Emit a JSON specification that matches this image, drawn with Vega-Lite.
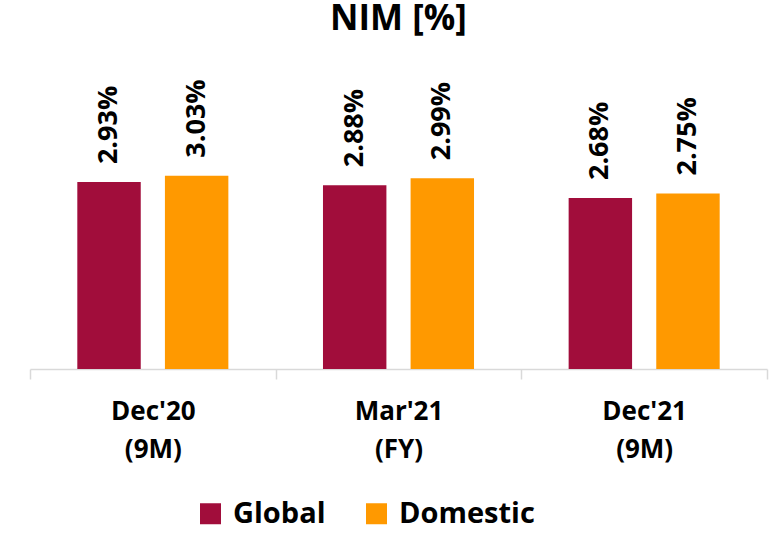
{
  "$schema": "https://vega.github.io/schema/vega-lite/v6.json",
  "autosize": "none",
  "width": 737,
  "height": 319,
  "padding": {"left": 30, "top": 50, "right": 9, "bottom": 165},
  "background": "white",
  "config": {
    "view": {"stroke": null},
    "font": "Open Sans"
  },
  "title": {
    "text": "NIM [%]",
    "fontSize": 35,
    "fontWeight": "bold",
    "font": "Open Sans",
    "color": "#000000",
    "anchor": "middle",
    "frame": "group",
    "baseline": "alphabetic",
    "offset": -15
  },
  "data": {
    "values": [
      {"period": "Dec'20 (9M)", "series": "Global", "value": 2.93, "label": "2.93%"},
      {"period": "Dec'20 (9M)", "series": "Domestic", "value": 3.03, "label": "3.03%"},
      {"period": "Mar'21 (FY)", "series": "Global", "value": 2.88, "label": "2.88%"},
      {"period": "Mar'21 (FY)", "series": "Domestic", "value": 2.99, "label": "2.99%"},
      {"period": "Dec'21 (9M)", "series": "Global", "value": 2.68, "label": "2.68%"},
      {"period": "Dec'21 (9M)", "series": "Domestic", "value": 2.75, "label": "2.75%"}
    ]
  },
  "encoding": {
    "x": {
      "field": "period",
      "type": "nominal",
      "sort": null,
      "scale": {"paddingInner": 0, "paddingOuter": 0},
      "axis": {
        "title": null,
        "labelAngle": 0,
        "labelExpr": "split(datum.label, ' ')",
        "labelFontSize": 26,
        "labelFontWeight": "bold",
        "labelFont": "Open Sans",
        "labelColor": "#000000",
        "labelLineHeight": 38,
        "labelPadding": 19,
        "domainColor": "#D9D9D9",
        "domainWidth": 1.5,
        "tickColor": "#D9D9D9",
        "tickWidth": 1.5,
        "tickSize": 10,
        "tickBand": "extent"
      }
    },
    "xOffset": {
      "field": "series",
      "type": "nominal",
      "sort": ["Global", "Domestic"],
      "scale": {"paddingInner": 0.276, "paddingOuter": 0.54}
    },
    "y": {
      "field": "value",
      "type": "quantitative",
      "scale": {"domain": [0, 5]},
      "axis": null
    }
  },
  "layer": [
    {
      "mark": {"type": "bar"},
      "encoding": {
        "color": {
          "field": "series",
          "type": "nominal",
          "sort": ["Global", "Domestic"],
          "scale": {"domain": ["Global", "Domestic"], "range": ["#A10D3B", "#FF9900"]},
          "legend": {
            "title": null,
            "orient": "none",
            "direction": "horizontal",
            "legendX": 166,
            "legendY": 449,
            "symbolType": "square",
            "symbolSize": 441,
            "symbolStrokeWidth": 0,
            "labelFontSize": 29,
            "labelFontWeight": "bold",
            "labelFont": "Open Sans",
            "labelColor": "#000000",
            "labelOffset": 8,
            "columnPadding": 36
          }
        }
      }
    },
    {
      "mark": {
        "type": "text",
        "angle": 270,
        "align": "left",
        "baseline": "middle",
        "dx": 18,
        "fontSize": 27,
        "fontWeight": "bold",
        "font": "Open Sans",
        "color": "#000000"
      },
      "encoding": {
        "text": {"field": "label"}
      }
    }
  ]
}
